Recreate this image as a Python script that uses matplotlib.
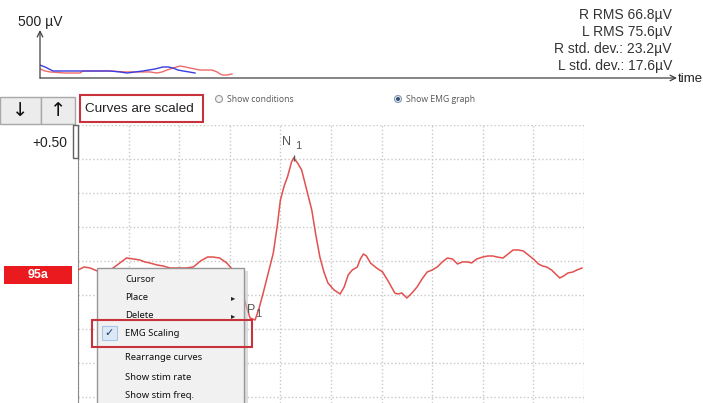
import numpy as np
import matplotlib.pyplot as plt
from matplotlib.patches import Rectangle, Circle

plt.rcParams['font.family'] = ['Liberation Sans', 'DejaVu Sans']

W, H = 703, 403

# averaged response curve (ms, scaled amplitude)
t_ms = [0.0, 0.6, 1.2, 1.9, 2.5, 3.2, 4.0, 4.8, 5.5, 6.1, 6.6, 7.1, 7.8, 8.4,
        9.1, 9.9, 10.7, 11.4, 12.1, 12.8, 13.3, 14.0, 14.7, 15.3, 16.0, 16.6,
        17.0, 17.5, 17.9, 18.3, 18.8, 19.3, 19.7, 20.0, 20.4, 20.7, 21.1, 21.3,
        21.7, 22.1, 22.6, 23.1, 23.5, 23.9, 24.3, 24.7, 25.3, 25.9, 26.3, 26.7,
        27.1, 27.6, 27.9, 28.2, 28.5, 28.9, 29.5, 30.1, 30.7, 31.3, 31.6, 32.0,
        32.5, 33.0, 33.5, 34.0, 34.5, 35.0, 35.5, 36.0, 36.5, 37.0, 37.5, 38.0,
        38.5, 38.9, 39.4, 40.0, 40.5, 41.0, 41.4, 42.0, 42.5, 43.0, 43.5, 44.0,
        44.5, 45.0, 45.5, 45.9, 46.3, 46.8, 47.2, 47.6, 48.0, 48.4, 48.9, 49.3,
        49.8]
amp = [-0.03, 0.015, 0.0, -0.045, -0.075, -0.03, 0.06, 0.15, 0.134, 0.12,
       0.09, 0.075, 0.045, 0.03, 0.0, 0.0, 0.0, 0.015, 0.104, 0.164, 0.164,
       0.149, 0.075, -0.03, -0.254, -0.552, -0.746, -0.776, -0.597, -0.373,
       -0.075, 0.224, 0.642, 1.015, 1.239, 1.358, 1.582, 1.642, 1.567, 1.463,
       1.164, 0.866, 0.493, 0.164, -0.06, -0.224, -0.328, -0.388, -0.284,
       -0.104, -0.03, 0.015, 0.134, 0.209, 0.179, 0.075, 0.0, -0.06, -0.209,
       -0.373, -0.388, -0.373, -0.448, -0.373, -0.284, -0.164, -0.06, -0.03,
       0.015, 0.09, 0.149, 0.134, 0.06, 0.09, 0.09, 0.075, 0.134, 0.164, 0.179,
       0.179, 0.164, 0.149, 0.209, 0.269, 0.269, 0.254, 0.194, 0.134, 0.06,
       0.03, 0.015, -0.03, -0.09, -0.149, -0.119, -0.075, -0.06, -0.03, 0.0]
n1_t, n1_amp = 21.3, 1.642
p1_t, p1_amp = 17.5, -0.776

# EMG graph (top strip), µV
emg_t_r = [0.0, 0.5, 1.3, 3.0, 5.0, 7.0, 8.0, 8.7, 9.5, 10.3, 11.5, 12.3,
           12.8, 13.3, 13.8, 14.3, 14.9, 15.5]
emg_r = [135, 115, 73, 73, 73, 73, 63, 52, 63, 73, 94, 115, 115, 104, 83,
         73, 63, 52]
emg_t_l = [0.0, 0.5, 1.0, 2.5, 4.0, 4.3, 5.5, 7.0, 8.5, 10.0, 11.0, 11.7,
           12.2, 12.7, 13.3, 14.0, 14.5, 15.0, 16.0, 16.7, 17.2, 17.7, 18.0,
           18.3, 18.7, 19.2]
emg_l = [94, 73, 63, 52, 52, 73, 73, 73, 63, 63, 63, 52, 63, 83, 104, 125,
         115, 104, 83, 83, 83, 63, 42, 31, 31, 42]

stats_lines = ["R RMS 66.8µV", "L RMS 75.6µV", "R std. dev.: 23.2µV",
               "L std. dev.: 17.6µV"]
menu_items = ["Cursor", "Place", "Delete", "EMG Scaling", "Rearrange curves",
              "Show stim rate", "Show stim freq."]
menu_submenu = [False, True, True, False, False, False, False]


def fx(px):
    return px / W


def fy(py):
    return 1 - py / H


fig = plt.figure(figsize=(W / 100, H / 100), dpi=100)
fig.patch.set_facecolor('white')

# main curve panel
ax = fig.add_axes([fx(78), fy(403), (584 - 78) / W, (403 - 125) / H])
ax.plot(t_ms, amp, color='#e2504f', lw=1.1, zorder=3)
y_top, y_bot = 2.134, -2.015
ax.set_xlim(0, 50)
ax.set_ylim(y_bot, y_top)
ax.set_xticks(np.arange(0, 51, 5))
ax.set_yticks(y_top - 0.507 * np.arange(9))
ax.grid(True, ls=':', color='#c8c8c8', lw=1)
ax.tick_params(length=0, labelleft=False, labelbottom=False)
for s in ['top', 'right', 'bottom']:
    ax.spines[s].set_visible(False)
ax.spines['left'].set_color('#8a8a8a')
ax.annotate('N', xy=(n1_t, n1_amp), xytext=(-5, 7), textcoords='offset points',
            ha='center', va='bottom', fontsize=9, color='#555555')
ax.annotate('1', xy=(n1_t, n1_amp), xytext=(3, 5), textcoords='offset points',
            ha='center', va='bottom', fontsize=8, color='#555555')
ax.plot([n1_t], [n1_amp], marker='|', ms=5, color='#555555', zorder=4)
ax.annotate('P', xy=(p1_t, p1_amp), xytext=(-3, 3), textcoords='offset points',
            ha='center', va='bottom', fontsize=9, color='#555555')
ax.annotate('1', xy=(p1_t, p1_amp), xytext=(2, 1), textcoords='offset points',
            ha='center', va='bottom', fontsize=8, color='#555555')

# EMG strip
top = fig.add_axes([fx(40), fy(78), (677 - 40) / W, (78 - 30) / H])
top.plot(emg_t_l, emg_l, color='#f06a6a', lw=1.0)
top.plot(emg_t_r, emg_r, color='#3c3ce0', lw=1.0)
top.set_xlim(0, 63.7)
top.set_ylim(0, 500)
top.axis('off')
arrow = dict(arrowstyle='->', color='#404040', lw=0.9, shrinkA=0, shrinkB=0)
top.annotate('', xy=(0, 1), xytext=(0, 0), xycoords='axes fraction',
             arrowprops=arrow)
top.annotate('', xy=(1, 0), xytext=(0, 0), xycoords='axes fraction',
             arrowprops=arrow)

# interface overlay in pixel coordinates
ui = fig.add_axes([0, 0, 1, 1], zorder=10)
ui.set_xlim(0, W)
ui.set_ylim(H, 0)
ui.axis('off')
ui.patch.set_alpha(0)

ui.text(40, 22, '500 µV', ha='center', va='center', fontsize=10, color='#222')
ui.text(678, 79, 'time', ha='left', va='center', fontsize=9.5, color='#222')
for i, line in enumerate(stats_lines):
    ui.text(672, 15 + 17 * i, line, ha='right', va='center', fontsize=10,
            color='#333')

# buttons
ui.add_patch(Rectangle((0, 97), 41, 27, fc='#ececec', ec='#a8a8a8', lw=1))
ui.add_patch(Rectangle((41, 97), 34, 27, fc='#ececec', ec='#a8a8a8', lw=1))
ui.text(20, 111, '↓', ha='center', va='center', fontsize=14,
        family='DejaVu Sans', color='#111')
ui.text(58, 111, '↑', ha='center', va='center', fontsize=14,
        family='DejaVu Sans', color='#111')

ui.add_patch(Rectangle((80, 95), 123, 27, fc='white', ec='#c8323c', lw=1.5))
ui.text(85, 109, 'Curves are scaled', ha='left', va='center', fontsize=9.7,
        color='#222')

ui.add_patch(Circle((219, 99), 3.5, fc='#f2f2f2', ec='#9a9a9a', lw=0.8))
ui.text(227, 99, 'Show conditions', ha='left', va='center', fontsize=6.2,
        family='Open Sans', color='#555')
ui.add_patch(Circle((398, 99), 3.5, fc='#e6ecf4', ec='#8a9ab0', lw=0.8))
ui.add_patch(Circle((398, 99), 2.0, fc='#34507a', ec='none'))
ui.text(406, 99, 'Show EMG graph', ha='left', va='center', fontsize=6.2,
        family='Open Sans', color='#555')

ui.text(67, 143, '+0.50', ha='right', va='center', fontsize=10, color='#222')
ui.add_patch(Rectangle((73, 125), 5, 33, fill=False, ec='#606060', lw=1))

ui.add_patch(Rectangle((4, 266), 68, 18, fc='#ea1a1e', ec='none'))
ui.text(38, 275, '95a', ha='center', va='center', fontsize=9,
        fontweight='bold', color='white')

# context menu
ui.add_patch(Rectangle((100, 271), 148, 140, fc='#c8c8c8', ec='none', alpha=0.6))
ui.add_patch(Rectangle((97, 268), 147, 140, fc='#f1f1f1', ec='#979797', lw=1))
menu_y = [280, 298, 316, 333, 358, 377, 396]
for label, y, sub in zip(menu_items, menu_y, menu_submenu):
    ui.text(125, y, label, ha='left', va='center', fontsize=6.8,
            family='Noto Sans', color='#111')
    if sub:
        ui.text(233, y, '▸', ha='center', va='center', fontsize=6,
                family='DejaVu Sans', color='#222')
ui.add_patch(Rectangle((102, 326), 15, 14, fc='#dde8f5', ec='#a8c4e8', lw=0.8))
ui.text(109.5, 333, '✓', ha='center', va='center', fontsize=8,
        family='DejaVu Sans', color='#1c3a80')
ui.add_patch(Rectangle((92, 320), 160, 27, fill=False, ec='#c8323c', lw=1.5))

fig.savefig('out.png', dpi=100)
